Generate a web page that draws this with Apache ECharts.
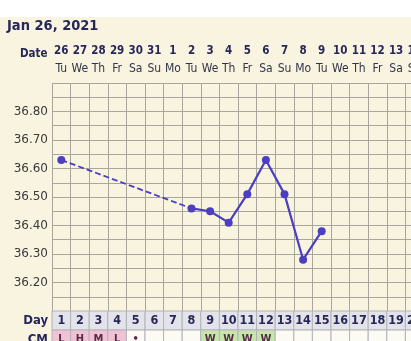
<!DOCTYPE html>
<html>
<head>
<meta charset="utf-8">
<script src="https://cdn.jsdelivr.net/npm/echarts@6/dist/echarts.min.js"></script>
<style>
  html, body { margin: 0; padding: 0; background: #ffffff; width: 411px; height: 341px; overflow: hidden; }
  #chart { position: absolute; left: 0; top: 17px; width: 470px; height: 340px; }
</style>
</head>
<body>
<div id="chart"></div>
<script>
// ---- data ----
const title = 'Jan 26, 2021';
const dates = ['26','27','28','29','30','31','1','2','3','4','5','6','7','8','9','10','11','12','13','14','15'];
const weekdays = ['Tu','We','Th','Fr','Sa','Su','Mo','Tu','We','Th','Fr','Sa','Su','Mo','Tu','We','Th','Fr','Sa','Su','Mo'];
const cycleDays = ['1','2','3','4','5','6','7','8','9','10','11','12','13','14','15','16','17','18','19','20','21'];
const temps = [36.63, null, null, null, null, null, null, 36.46, 36.45, 36.41, 36.51, 36.63, 36.51, 36.28, 36.38, null, null, null, null, null, null];
const cmCodes = ['L','H','M','L','•','','','','W','W','W','W','','','','','','','','',''];
const rowNames = ['Day', 'CM'];
const yMin = 36.1, yMax = 36.9, yStep = 0.05;

// ---- styles ----
const NAVY = '#27275a';
const LINE = '#4b3fbf';
const GRIDC = '#a9a79d';
const BG = '#f8f4e0';
const cmFill = { 'L': '#efc3d3', 'H': '#efc3d3', 'M': '#efc3d3', 'W': '#c6e6ac', '•': '#fbfaf3', '': '#fbfaf3' };

// dashed connector: endpoints around gaps of missing values
const gapData = temps.map((v, i) => {
  if (v == null) return null;
  const prevNull = i > 0 && temps[i - 1] == null && temps.slice(0, i).some(x => x != null);
  const nextNull = i < temps.length - 1 && temps[i + 1] == null && temps.slice(i + 1).some(x => x != null);
  return (prevNull || nextNull) ? v : null;
});

const cells = [];
cycleDays.forEach((d, i) => cells.push([i, 0, d, '#e3e3ea']));
cmCodes.forEach((c, i) => cells.push([i, 1, c, cmFill[c]]));

const chart = echarts.init(document.getElementById('chart'), null, { renderer: 'canvas' });
const colW = 18.6;
const gridW = colW * dates.length;

chart.setOption({
  backgroundColor: BG,
  animation: false,
  title: {
    text: title, left: 7, top: 2, padding: 0,
    textStyle: { fontFamily: 'DejaVu Sans Condensed, DejaVu Sans', fontWeight: 'bold', fontSize: 14.5, color: NAVY }
  },
  graphic: [{
    type: 'text', left: 20, top: 31,
    style: { text: 'Date', fontFamily: 'DejaVu Sans Condensed, DejaVu Sans', fontWeight: 'bold', fontSize: 11.5, fill: NAVY }
  }],
  grid: [
    { left: 52, top: 66, width: gridW, height: 228, containLabel: false },
    { left: 52, top: 294, width: gridW, height: 38, containLabel: false }
  ],
  xAxis: [{
    type: 'category', gridIndex: 0, position: 'top', data: dates, boundaryGap: true,
    axisLine: { show: false }, axisTick: { show: false },
    splitLine: { show: true, lineStyle: { color: GRIDC, width: 1 } },
    axisLabel: {
      interval: 0, margin: 6,
      formatter: (v, i) => '{d|' + v + '}\n{w|' + weekdays[i] + '}',
      rich: {
        d: { fontFamily: 'DejaVu Sans Condensed, DejaVu Sans', fontWeight: 'bold', fontSize: 11.5, color: NAVY, lineHeight: 17 },
        w: { fontFamily: 'DejaVu Sans Condensed, DejaVu Sans', fontSize: 12, color: '#33334a', lineHeight: 17 }
      }
    }
  }, {
    type: 'category', gridIndex: 1, data: cycleDays, show: false
  }],
  yAxis: [{
    type: 'value', gridIndex: 0, min: yMin, max: yMax, interval: yStep,
    axisLine: { show: false }, axisTick: { show: false },
    splitLine: { show: true, lineStyle: { color: GRIDC, width: 1 } },
    axisLabel: {
      margin: 4, color: '#3a3a3a', fontFamily: 'DejaVu Sans', fontSize: 12,
      formatter: v => {
        const h = Math.round(v * 100);
        if (h % 10 !== 0 || h <= Math.round(yMin * 100) || h >= Math.round(yMax * 100)) return '';
        return (h / 100).toFixed(2);
      }
    }
  }, {
    type: 'category', gridIndex: 1, data: rowNames, inverse: true,
    axisLine: { show: false }, axisTick: { show: false },
    axisLabel: { margin: 4, color: NAVY, fontFamily: 'DejaVu Sans Condensed, DejaVu Sans', fontWeight: 'bold', fontSize: 13 }
  }],
  series: [{
    type: 'line', xAxisIndex: 0, yAxisIndex: 0, data: gapData, connectNulls: true,
    symbol: 'none', lineStyle: { color: LINE, width: 1.8, type: [6, 3] }, z: 2
  }, {
    type: 'line', xAxisIndex: 0, yAxisIndex: 0, data: temps, connectNulls: false,
    symbol: 'circle', symbolSize: 8, showAllSymbol: true,
    itemStyle: { color: LINE }, lineStyle: { color: LINE, width: 2.2 }, z: 3
  }, {
    type: 'custom', xAxisIndex: 1, yAxisIndex: 1, data: cells,
    renderItem: (params, api) => {
      const c = api.coord([api.value(0), api.value(1)]);
      const s = api.size([1, 1]);
      const item = cells[params.dataIndex];
      const isDay = item[1] === 0;
      return {
        type: 'group',
        children: [{
          type: 'rect',
          shape: { x: c[0] - s[0] / 2, y: c[1] - s[1] / 2, width: s[0], height: s[1] },
          style: { fill: item[3], stroke: '#b4b2bc', lineWidth: 1 }
        }, {
          type: 'text',
          style: {
            text: item[2], x: c[0], y: c[1], align: 'center', verticalAlign: 'middle',
            fontFamily: 'DejaVu Sans Condensed, DejaVu Sans', fontWeight: 'bold',
            fontSize: isDay ? 12.5 : 11, fill: isDay ? NAVY : '#5a2a4a'
          }
        }]
      };
    }
  }]
});
</script>
</body>
</html>
